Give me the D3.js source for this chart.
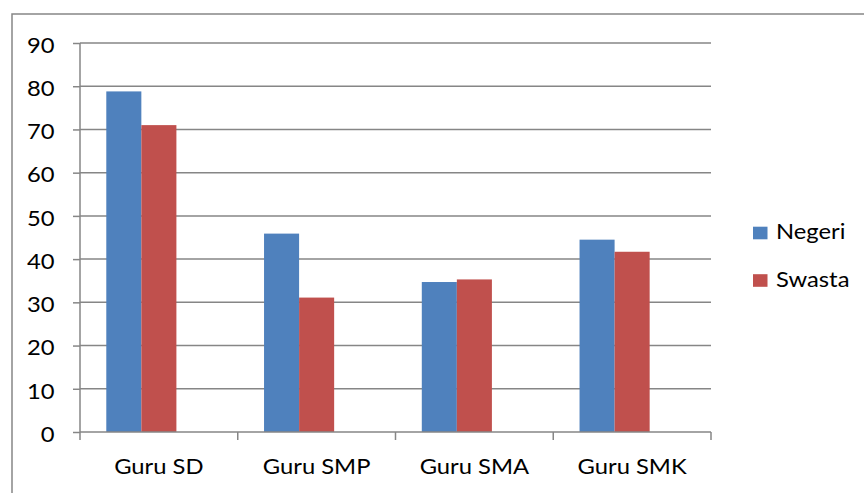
<!DOCTYPE html>
<html><head><meta charset="utf-8">
<script src="https://cdn.jsdelivr.net/npm/d3@7"></script>
<style>body{margin:0;background:#fff}svg{display:block}</style>
</head><body><svg id="c" width="864" height="493"></svg>
<script>
const categories = ["Guru SD", "Guru SMP", "Guru SMA", "Guru SMK"];
const seriesNames = ["Negeri", "Swasta"];
const negeri = [78.8, 45.9, 34.7, 44.5];
const swasta = [71.0, 31.1, 35.3, 41.7];
const yTicks = [0, 10, 20, 30, 40, 50, 60, 70, 80, 90];
const colors = ["#4F81BD", "#C0504D"];

(function () {
const svg = d3.select("#c");
const font = "Lato, 'Open Sans', sans-serif";
const fs = 20.5, sx = 1.16;
const pL = 80, pR = 711, pT = 43, pB = 432;
const grid = "#868686";

// outer frame
svg.append("rect").attr("x", 12).attr("y", 14).attr("width", 900).attr("height", 600)
  .attr("fill", "none").attr("stroke", grid).attr("stroke-width", 1.5);

const x = d3.scaleBand().domain(categories).range([pL, pR]).paddingInner(0).paddingOuter(0);
const y = d3.scaleLinear().domain([0, 90]).range([pB, pT]);
// Excel-style clustered layout: 3 slots (third empty), gap width 150%
const barW = x.bandwidth() / 4.5;
const x1 = d3.scaleBand().domain(seriesNames).range([0, barW * 2]);

// gridlines
svg.append("g").selectAll("line").data(yTicks.filter(d => d > 0)).join("line")
  .attr("x1", pL).attr("x2", pR).attr("y1", d => y(d)).attr("y2", d => y(d))
  .attr("stroke", grid).attr("stroke-width", 1.5);

// bars
const data = categories.map((c, i) => ({c, vals: [negeri[i], swasta[i]]}));
const g = svg.append("g").selectAll("g").data(data).join("g")
  .attr("transform", d => `translate(${x(d.c) + barW * 0.75},0)`);
g.selectAll("rect").data(d => d.vals.map((v, j) => ({v, s: seriesNames[j], j}))).join("rect")
  .attr("x", d => x1(d.s)).attr("width", x1.bandwidth())
  .attr("y", d => y(d.v)).attr("height", d => y(0) - y(d.v))
  .attr("fill", d => colors[d.j]);

// y axis
const yAxis = d3.axisLeft(y).tickValues(yTicks).tickSize(7).tickPadding(0).tickFormat(d3.format("d"));
const ya = svg.append("g").attr("transform", `translate(${pL},0)`).call(yAxis);
ya.select(".domain").attr("stroke", grid).attr("stroke-width", 1.5).attr("d", `M0,${pT}V${pB}`);
ya.selectAll(".tick line").attr("stroke", grid).attr("stroke-width", 1.5);
ya.selectAll("text").attr("font-family", font).attr("font-size", fs).attr("fill", "#000")
  .attr("x", -25.5 / sx).attr("dy", "0.45em").attr("transform", `scale(${sx},1)`);

// x axis
const xa = svg.append("g").attr("transform", `translate(0,${pB})`)
  .call(d3.axisBottom(x).tickSize(0).tickPadding(0));
xa.select(".domain").attr("stroke", grid).attr("stroke-width", 1.5).attr("d", `M${pL},0H${pR}`);
xa.selectAll("text").attr("font-family", font).attr("font-size", fs).attr("fill", "#000")
  .attr("y", 42).attr("dy", 0).attr("transform", `scale(${sx},1)`);
const edges = categories.map(c => x(c)).concat([pR]);
xa.append("g").selectAll("line").data(edges).join("line")
  .attr("x1", d => d).attr("x2", d => d).attr("y1", 0).attr("y2", 8)
  .attr("stroke", grid).attr("stroke-width", 1.5);

// legend
const lg = svg.append("g").selectAll("g").data(seriesNames).join("g")
  .attr("transform", (d, i) => `translate(753,${226.7 + i * 47.5})`);
lg.append("rect").attr("width", 14.5).attr("height", 12.6).attr("fill", (d, i) => colors[i]);
lg.append("g").attr("transform", `translate(23,12.6) scale(${sx},1)`)
  .append("text").text(d => d)
  .attr("font-family", font).attr("font-size", fs).attr("fill", "#000");
})();
</script></body></html>
